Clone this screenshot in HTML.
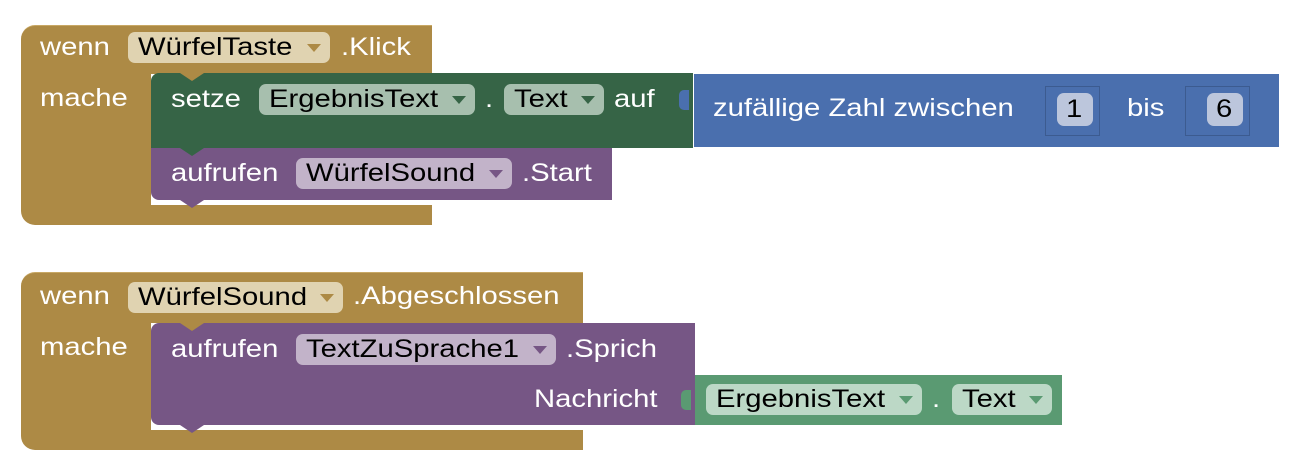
<!DOCTYPE html>
<html><head><meta charset="utf-8"><style>
body{margin:0;width:1296px;height:472px;background:#fff;position:relative;overflow:hidden;font-family:"Liberation Sans",Arial,sans-serif;}
.a{position:absolute;}
.t{position:absolute;color:#fff;font-size:25px;line-height:30px;white-space:nowrap;transform:scaleX(1.17);transform-origin:0 0;}
.p{position:absolute;height:31px;border-radius:7px;color:#000;font-size:25px;line-height:31px;box-sizing:border-box;white-space:nowrap;}
.p span{position:absolute;left:10px;top:0;transform:scaleX(1.17);transform-origin:0 0;}
.arr{position:absolute;right:9px;top:12px;width:0;height:0;border-left:7px solid transparent;border-right:7px solid transparent;}
</style></head><body>
<!-- Block 1 gold -->
<div class="a" style="left:21px;top:25px;width:411px;height:48px;background:#AD8A45;border-radius:14px 0 0 0;border-top:1px solid #c8a865"></div>
<div class="a" style="left:21px;top:70px;width:130px;height:155px;background:#AD8A45;border-radius:0 0 0 14px"></div>
<div class="a" style="left:140px;top:205px;width:292px;height:20px;background:#AD8A45"></div>
<div class="t" style="left:40px;top:32px">wenn</div>
<div class="p" style="left:128px;top:32px;width:202px;background:#E0D3B1"><span>WürfelTaste</span><i class="arr" style="border-top:8px solid #AD8A45"></i></div>
<div class="t" style="left:341px;top:32px">.Klick</div>
<div class="t" style="left:40px;top:83px">mache</div>
<!-- green setze -->
<div class="a" style="left:151px;top:73px;width:542px;height:75px;background:#366446;border-radius:8px 0 0 0"></div>
<div class="a" style="left:180px;top:73px;width:0;height:0;border-left:12px solid transparent;border-right:12px solid transparent;border-top:8px solid #AD8A45"></div>
<div class="t" style="left:171px;top:84px">setze</div>
<div class="p" style="left:259px;top:84px;width:216px;background:#A7BFAE"><span>ErgebnisText</span><i class="arr" style="border-top:8px solid #366446"></i></div>
<div class="t" style="left:485px;top:84px">.</div>
<div class="p" style="left:504px;top:84px;width:100px;background:#A7BFAE"><span>Text</span><i class="arr" style="border-top:8px solid #366446"></i></div>
<div class="t" style="left:614px;top:84px">auf</div>
<!-- purple aufrufen -->
<div class="a" style="left:151px;top:148px;width:461px;height:52px;background:#765685;border-radius:0 0 0 8px"></div>
<div class="a" style="left:180px;top:148px;width:0;height:0;border-left:12px solid transparent;border-right:12px solid transparent;border-top:8px solid #366446"></div>
<div class="a" style="left:180px;top:200px;width:0;height:0;border-left:12px solid transparent;border-right:12px solid transparent;border-top:8px solid #765685"></div>
<div class="t" style="left:171px;top:158px">aufrufen</div>
<div class="p" style="left:296px;top:158px;width:216px;background:#C2B3C9"><span>WürfelSound</span><i class="arr" style="border-top:8px solid #765685"></i></div>
<div class="t" style="left:522px;top:158px">.Start</div>
<!-- blue -->
<div class="a" style="left:693px;top:74px;width:585px;height:73px;background:#4A6FAE;border-left:1px solid #fff"></div>
<div class="a" style="left:679px;top:90px;width:10px;height:20px;background:#4A6FAE;border-radius:5px 0 0 5px"></div>
<div class="t" style="left:713px;top:93px">zufällige Zahl zwischen</div>
<div class="a" style="left:1045px;top:86px;width:55px;height:50px;border:1px solid #3c5b90;box-sizing:border-box"></div>
<div class="p" style="left:1057px;top:93px;width:36px;height:33px;background:#BCC6DC;line-height:33px"><span style="left:9px">1</span></div>
<div class="t" style="left:1127px;top:93px">bis</div>
<div class="a" style="left:1185px;top:86px;width:65px;height:50px;border:1px solid #3c5b90;box-sizing:border-box"></div>
<div class="p" style="left:1207px;top:93px;width:36px;height:33px;background:#BCC6DC;line-height:33px"><span style="left:9px">6</span></div>

<!-- Block 2 gold -->
<div class="a" style="left:21px;top:272px;width:562px;height:50px;background:#AD8A45;border-radius:14px 0 0 0;border-top:1px solid #c8a865"></div>
<div class="a" style="left:21px;top:320px;width:130px;height:130px;background:#AD8A45;border-radius:0 0 0 14px"></div>
<div class="a" style="left:140px;top:430px;width:443px;height:20px;background:#AD8A45"></div>
<div class="t" style="left:40px;top:281px">wenn</div>
<div class="p" style="left:128px;top:282px;width:215px;background:#E0D3B1"><span>WürfelSound</span><i class="arr" style="border-top:8px solid #AD8A45"></i></div>
<div class="t" style="left:353px;top:281px">.Abgeschlossen</div>
<div class="t" style="left:40px;top:332px">mache</div>
<!-- purple -->
<div class="a" style="left:151px;top:323px;width:544px;height:102px;background:#765685;border-radius:8px 0 0 8px"></div>
<div class="a" style="left:180px;top:323px;width:0;height:0;border-left:12px solid transparent;border-right:12px solid transparent;border-top:8px solid #AD8A45"></div>
<div class="a" style="left:180px;top:425px;width:0;height:0;border-left:12px solid transparent;border-right:12px solid transparent;border-top:8px solid #765685"></div>
<div class="t" style="left:171px;top:334px">aufrufen</div>
<div class="p" style="left:296px;top:334px;width:260px;background:#C2B3C9"><span>TextZuSprache1</span><i class="arr" style="border-top:8px solid #765685"></i></div>
<div class="t" style="left:566px;top:334px">.Sprich</div>
<div class="t" style="left:534px;top:384px">Nachricht</div>
<!-- light green -->
<div class="a" style="left:695px;top:375px;width:367px;height:50px;background:#5A9A72"></div>
<div class="a" style="left:681px;top:390px;width:10px;height:20px;background:#5A9A72;border-radius:5px 0 0 5px"></div>
<div class="p" style="left:706px;top:384px;width:216px;background:#BCD8C6"><span>ErgebnisText</span><i class="arr" style="border-top:8px solid #5A9A72"></i></div>
<div class="t" style="left:932px;top:384px">.</div>
<div class="p" style="left:952px;top:384px;width:100px;background:#BCD8C6"><span>Text</span><i class="arr" style="border-top:8px solid #5A9A72"></i></div>
</body></html>
